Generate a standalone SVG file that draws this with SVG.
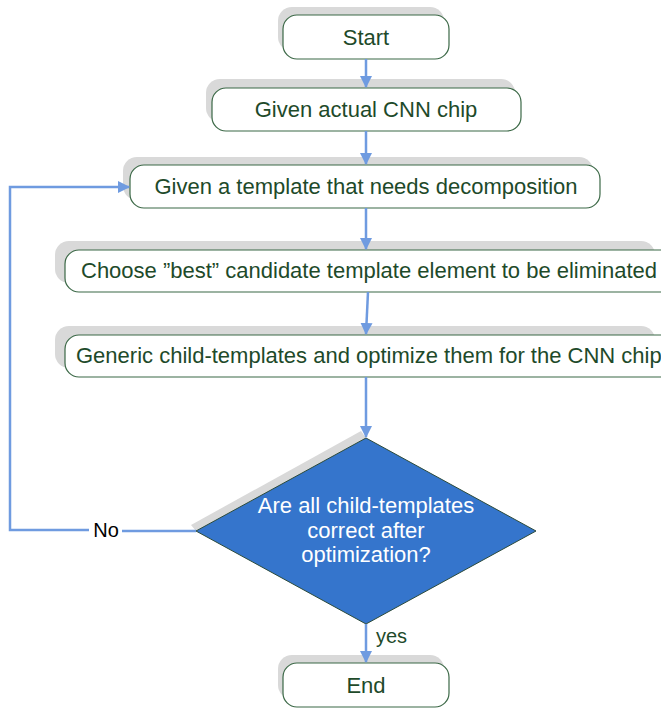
<svg xmlns="http://www.w3.org/2000/svg" width="661" height="709" viewBox="0 0 661 709">
<style>
.sh{fill:#d9d9d9;}
.box{fill:#ffffff;stroke:#3b6846;stroke-width:1.2;}
.t{font-family:"Liberation Sans",Arial,sans-serif;font-size:22px;fill:#1e4a2a;text-anchor:middle;}
.w{font-family:"Liberation Sans",Arial,sans-serif;font-size:22px;fill:#ffffff;text-anchor:middle;}
.c{fill:none;stroke:#6f9be0;stroke-width:2.5;}
</style>
<defs>
<marker id="ah" markerWidth="12" markerHeight="12" refX="11" refY="6" orient="auto" markerUnits="userSpaceOnUse">
<path d="M0,0 L12,6 L0,12 z" fill="#6f9be0"/>
</marker>
</defs>
<rect width="661" height="709" fill="#ffffff"/>
<g id="start">
<rect class="sh" x="278" y="7" width="166" height="44" rx="14"/>
<rect class="box" x="283" y="15" width="166" height="44" rx="14"/>
<text class="t" x="366" y="45">Start</text>
</g>
<g id="chip">
<rect class="sh" x="206" y="79" width="309" height="43" rx="14"/>
<rect class="box" x="212" y="88" width="309" height="43" rx="14"/>
<text class="t" x="366" y="117">Given actual CNN chip</text>
</g>
<g id="template">
<rect class="sh" x="123" y="157" width="470" height="43" rx="14"/>
<rect class="box" x="130" y="165" width="470" height="43" rx="14"/>
<text class="t" x="366" y="194">Given a template that needs decomposition</text>
</g>
<g id="choose">
<rect class="sh" x="55" y="241" width="600" height="42" rx="14"/>
<rect class="box" x="65" y="250" width="610" height="42" rx="14"/>
<text class="t" x="81" y="278" style="text-anchor:start">Choose ”best” candidate template element to be eliminated</text>
</g>
<g id="generic">
<rect class="sh" x="55" y="326" width="600" height="42" rx="14"/>
<rect class="box" x="65" y="335" width="610" height="42" rx="14"/>
<text class="t" x="76" y="363" style="text-anchor:start">Generic child-templates and optimize them for the CNN chip</text>
</g>
<g id="decision">
<polygon class="sh" points="361,431 191,525 196,531 366,438"/>
<polygon points="366,438 536,531 366,624 196,531" fill="#3575cc" stroke="#2b4a3a" stroke-width="1"/>
<text class="w" x="366" y="513">Are all child-templates</text>
<text class="w" x="366" y="538">correct after</text>
<text class="w" x="366" y="562">optimization?</text>
</g>
<g id="end">
<rect class="sh" x="278" y="655" width="166" height="44" rx="14"/>
<rect class="box" x="283" y="663" width="166" height="44" rx="14"/>
<text class="t" x="366" y="693">End</text>
</g>
<g id="connectors">
<line class="c" x1="366" y1="59" x2="366" y2="87" marker-end="url(#ah)"/>
<line class="c" x1="366" y1="131" x2="366" y2="164" marker-end="url(#ah)"/>
<line class="c" x1="366" y1="208" x2="366" y2="249" marker-end="url(#ah)"/>
<line class="c" x1="368" y1="292" x2="366" y2="334" marker-end="url(#ah)"/>
<line class="c" x1="366" y1="377" x2="366" y2="437" marker-end="url(#ah)"/>
<line class="c" x1="366" y1="624" x2="366" y2="662" marker-end="url(#ah)"/>
<line class="c" x1="196" y1="531" x2="122" y2="531"/>
<polyline class="c" points="89,530 10,530 10,187 129,187" marker-end="url(#ah)"/>
<text x="376" y="643" style="font-family:'Liberation Sans',Arial,sans-serif;font-size:20px;fill:#1e4a2a;">yes</text>
<text x="106" y="537" style="font-family:'Liberation Sans',Arial,sans-serif;font-size:20px;fill:#000000;text-anchor:middle;">No</text>
</g>
</svg>
